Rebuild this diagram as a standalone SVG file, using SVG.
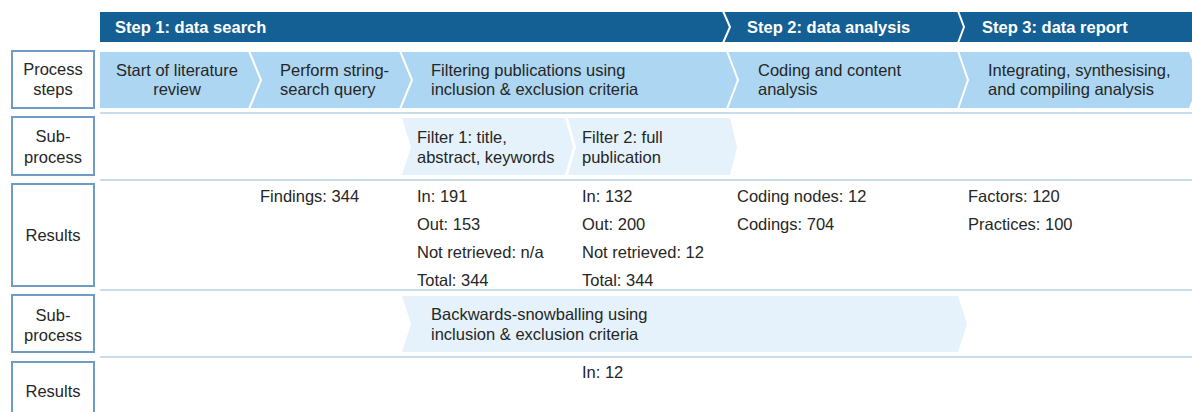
<svg xmlns="http://www.w3.org/2000/svg" width="1192" height="412" viewBox="0 0 1192 412">
<style>
.t{font-family:"Liberation Sans",Arial,sans-serif;font-size:16.5px;fill:#262626}
.h{font-family:"Liberation Sans",Arial,sans-serif;font-size:16.5px;font-weight:bold;fill:#ffffff}
.c{text-anchor:middle}
.lbl{fill:#ffffff;stroke:#6f9cc4;stroke-width:2}
.step{fill:#145f93}
.proc{fill:#acd6f2}
.sub{fill:#e5f2fb}
.sep{fill:none;stroke:#ffffff;stroke-width:2}
.row{stroke:#c9dcea;stroke-width:2}
</style>
<rect width="1192" height="412" fill="#ffffff"/>
<g id="connectors">
<line class="row" x1="100" y1="113" x2="1192" y2="113"/>
<line class="row" x1="100" y1="180" x2="1192" y2="180"/>
<line class="row" x1="100" y1="290" x2="1192" y2="290"/>
<line class="row" x1="100" y1="357" x2="1192" y2="357"/>
</g>
<g id="step-bar">
<rect class="step" x="100" y="12" width="1092" height="30"/>
<polyline class="sep" points="723,11 730,27 723,43"/>
<polyline class="sep" points="958,11 964,27 958,43"/>
<text class="h" x="115" y="33">Step 1: data search</text>
<text class="h" x="747" y="33">Step 2: data analysis</text>
<text class="h" x="982" y="33">Step 3: data report</text>
</g>
<g id="label-process-steps">
<rect class="lbl" x="12" y="51" width="82" height="57"/>
<text class="t c" x="53" y="75">Process</text>
<text class="t c" x="53" y="95">steps</text>
</g>
<g id="label-subprocess-1">
<rect class="lbl" x="12" y="117" width="82" height="58"/>
<text class="t c" x="53" y="142">Sub-</text>
<text class="t c" x="53" y="163">process</text>
</g>
<g id="label-results-1">
<rect class="lbl" x="12" y="184" width="82" height="102"/>
<text class="t c" x="53" y="241">Results</text>
</g>
<g id="label-subprocess-2">
<rect class="lbl" x="12" y="295" width="82" height="57"/>
<text class="t c" x="53" y="321">Sub-</text>
<text class="t c" x="53" y="341">process</text>
</g>
<g id="label-results-2">
<rect class="lbl" x="12" y="362" width="82" height="60"/>
<text class="t c" x="53" y="397">Results</text>
</g>
<g id="process-row">
<polygon class="proc" points="100,52 1189,52 1200,80 1189,108 100,108"/>
<polyline class="sep" points="249,51 261,80 249,109"/>
<polyline class="sep" points="400,51 412,80 400,109"/>
<polyline class="sep" points="727,51 738,80 727,109"/>
<polyline class="sep" points="958,51 968,80 958,109"/>
</g>
<g id="step-start">
<text class="t c" x="177" y="76">Start of literature</text>
<text class="t c" x="177" y="95">review</text>
</g>
<g id="step-search">
<text class="t" x="280" y="76">Perform string-</text>
<text class="t" x="280" y="95">search query</text>
</g>
<g id="step-filter">
<text class="t" x="431" y="76">Filtering publications using</text>
<text class="t" x="431" y="95">inclusion &amp; exclusion criteria</text>
</g>
<g id="step-coding">
<text class="t" x="758" y="76">Coding and content</text>
<text class="t" x="758" y="95">analysis</text>
</g>
<g id="step-integrate">
<text class="t" x="988" y="76">Integrating, synthesising,</text>
<text class="t" x="988" y="95">and compiling analysis</text>
</g>
<g id="filter-1">
<polygon class="sub" points="402,118 565,118 573,147 565,175 402,175 411,147"/>
<text class="t" x="417" y="143">Filter 1: title,</text>
<text class="t" x="417" y="163">abstract, keywords</text>
</g>
<g id="filter-2">
<polygon class="sub" points="568,118 730,118 737,147 730,175 568,175 576,147"/>
<text class="t" x="582" y="143">Filter 2: full</text>
<text class="t" x="582" y="163">publication</text>
</g>
<g id="results-search">
<text class="t" x="260" y="202">Findings: 344</text>
</g>
<g id="results-filter-1">
<text class="t" x="417" y="202">In: 191</text>
<text class="t" x="417" y="230">Out: 153</text>
<text class="t" x="417" y="258">Not retrieved: n/a</text>
<text class="t" x="417" y="286">Total: 344</text>
</g>
<g id="results-filter-2">
<text class="t" x="582" y="202">In: 132</text>
<text class="t" x="582" y="230">Out: 200</text>
<text class="t" x="582" y="258">Not retrieved: 12</text>
<text class="t" x="582" y="286">Total: 344</text>
</g>
<g id="results-coding">
<text class="t" x="737" y="202">Coding nodes: 12</text>
<text class="t" x="737" y="230">Codings: 704</text>
</g>
<g id="results-integrate">
<text class="t" x="968" y="202">Factors: 120</text>
<text class="t" x="968" y="230">Practices: 100</text>
</g>
<g id="snowballing">
<polygon class="sub" points="402,296 958,296 967,324 958,352 402,352 411,324"/>
<text class="t" x="431" y="320">Backwards-snowballing using</text>
<text class="t" x="431" y="340">inclusion &amp; exclusion criteria</text>
</g>
<g id="results-snowballing">
<text class="t" x="582" y="378">In: 12</text>
</g>
</svg>
